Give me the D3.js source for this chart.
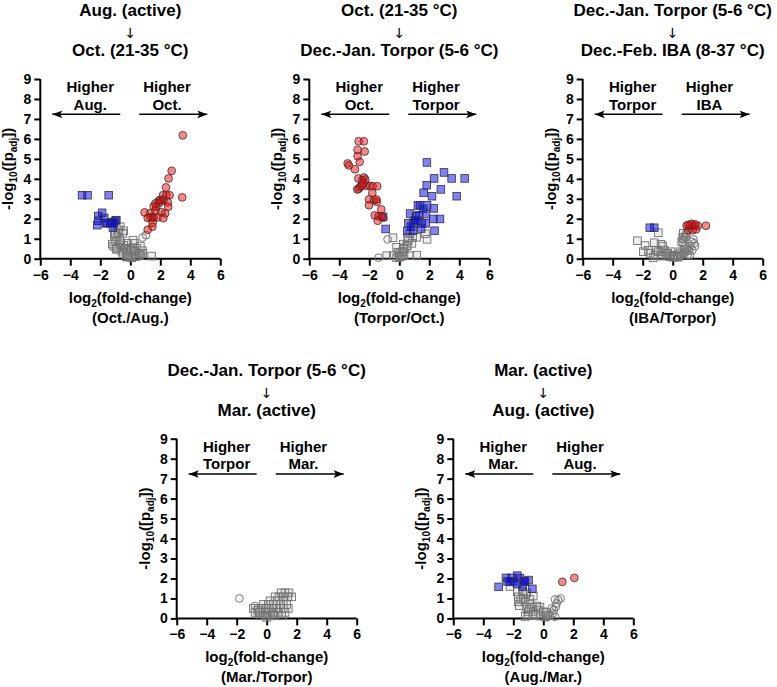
<!DOCTYPE html>
<html><head><meta charset="utf-8">
<script src="https://cdn.jsdelivr.net/npm/d3@7"></script>
<style>
html,body{margin:0;padding:0;background:#fff;}
svg{display:block;font-family:"Liberation Sans",Arial,Helvetica,sans-serif;}
text{-webkit-font-smoothing:antialiased;}
</style></head>
<body><svg id="chart" width="777" height="687"></svg>
<script>
// ---------- tick labels ----------
const xTicks = [-6, -4, -2, 0, 2, 4, 6];
const yTicks = [0, 1, 2, 3, 4, 5, 6, 7, 8, 9];

// ---------- panel texts ----------
const titleFrom = ["Aug. (active)", "Oct. (21-35 °C)", "Dec.-Jan. Torpor (5-6 °C)", "Dec.-Jan. Torpor (5-6 °C)", "Mar. (active)"];
const titleTo = ["Oct. (21-35 °C)", "Dec.-Jan. Torpor (5-6 °C)", "Dec.-Feb. IBA (8-37 °C)", "Mar. (active)", "Aug. (active)"];
const higherLeft = ["Aug.", "Oct.", "Torpor", "Torpor", "Mar."];
const higherRight = ["Oct.", "Torpor", "IBA", "Mar.", "Aug."];
const ratioLabels = ["(Oct./Aug.)", "(Torpor/Oct.)", "(IBA/Torpor)", "(Mar./Torpor)", "(Aug./Mar.)"];

// ---------- data: [log2 fold-change, -log10 padj] ----------
const p1RedCircles = [[3.5,6.18],[2.76,4.4],[2.55,4.02],[2.38,3.57],[3.46,3.07],[2.18,3.18],[2.4,3.18],[2.62,3.18],[2.0,2.95],[2.1,2.9],[1.9,2.9],[2.22,2.95],[1.67,2.77],[1.91,2.78],[2.5,2.82],[1.73,2.6],[1.56,2.62],[2.53,2.6],[0.95,2.32],[1.33,2.28],[1.67,2.4],[2.08,2.33],[2.33,2.27],[1.47,2.07],[1.33,2.07],[1.56,2.05],[1.82,2.07],[2.2,2.03],[1.16,2.04],[1.49,1.8],[1.47,1.6],[1.16,1.45]];
const p1BlueSquares = [[-3.22,3.18],[-2.85,3.18],[-1.44,3.18],[-1.88,2.3],[-2.14,2.14],[-1.74,2.04],[-2.14,1.9],[-2.2,1.68],[-1.56,1.8],[-1.33,1.78],[-1.0,1.9],[-1.1,1.77],[-0.93,1.93],[-1.2,1.82],[-1.16,1.55],[-1.62,1.77]];
const p1GraySquares = [[-0.67,1.6],[-0.44,1.4],[-0.8,1.33],[-1.07,1.18],[-0.89,1.1],[-0.98,0.88],[-1.2,0.73],[-0.67,0.8],[-0.44,0.68],[-0.18,0.77],[0.27,0.77],[0.67,0.63],[0.44,0.52],[0.07,0.52],[-0.27,0.47],[-0.84,0.57],[-1.11,0.63],[-0.56,0.38],[-0.18,0.33],[0.22,0.35],[0.67,0.27],[0.8,0.4],[0,0.18],[-0.27,0.1],[-0.11,0.07],[0.44,0.13],[1.42,0.13],[0.18,0.27],[-0.49,0.27],[-0.93,0.47],[-0.49,1.27],[-0.78,1.45],[-1.0,1.27],[-0.96,0.52],[-0.62,0.68],[-0.33,0.52],[0.18,0.93],[0.84,0.27],[0.04,0.43],[0.33,0.1],[-0.2,0.2],[0.6,0.15],[-0.7,0.95],[0.1,0.05],[0.3,0.4]];
const p1GrayCircles = [[0.82,1.06],[1.05,1.18],[0.6,0.3],[0.75,0.2]];

const p2RedCircles = [[-2.71,5.88],[-2.36,5.88],[-2.78,5.45],[-2.31,5.37],[-2.78,5.13],[-2.64,4.85],[-3.44,4.77],[-3.36,4.67],[-2.96,4.48],[-2.73,4.02],[-2.36,4.07],[-2.27,3.97],[-2.47,3.92],[-2.18,3.65],[-1.96,3.65],[-1.78,3.63],[-1.47,3.63],[-2.8,3.47],[-2.62,3.6],[-2.71,3.5],[-1.8,3.3],[-2.02,2.97],[-1.69,2.93],[-1.49,2.85],[-1.53,2.97],[-2.02,2.68],[-1.2,2.47],[-1.64,2.17],[-1.38,2.13],[-1.07,2.05],[-1.18,2.12],[-1.44,1.9],[-2.5,3.65],[-2.4,3.78]];
const p2BlueSquares = [[1.84,4.82],[2.98,4.32],[2.32,4.02],[3.49,4.02],[4.36,4.02],[1.83,3.68],[2.77,3.47],[1.62,3.3],[2.18,3.13],[3.83,3.13],[1.24,2.67],[1.38,2.67],[1.85,2.67],[2.3,2.52],[0.72,2.26],[1.11,2.13],[1.33,2.18],[1.78,2.23],[2.27,1.99],[2.71,1.99],[0.61,1.78],[0.93,1.8],[1.49,1.77],[1.75,1.77],[1.04,1.93],[2.35,1.4],[0.53,1.38],[0.91,1.4],[1.46,1.51],[-0.91,1.49],[-1.08,2.1],[0.78,1.6],[1.2,1.9],[1.6,2.5]];
const p2GraySquares = [[-0.42,1.05],[0.56,1.05],[0.89,1.07],[1.16,1.07],[1.74,1.25],[1.85,0.97],[0.84,0.77],[0.49,0.65],[0.27,0.52],[-0.18,0.57],[-0.09,0.32],[0.18,0.13],[0.71,0.15],[1.16,0.18],[-0.84,0.15],[-0.4,0.15],[-0.18,0.05],[0.04,0.3],[0.33,0.47],[0.71,1.27],[0.27,0.73],[0.53,0.63],[0.31,0.18],[0.2,0.35],[0.6,0.9],[0.0,0.1]];
const p2GrayCircles = [[-0.78,0.97],[-1.38,0.05],[0.1,0.05]];

const p3RedCircles = [[0.93,1.65],[1.16,1.65],[1.42,1.65],[1.67,1.65],[2.22,1.65],[1.04,1.43],[1.33,1.43],[1.56,1.47],[1.27,1.75],[1.05,1.7],[1.5,1.72]];
const p3BlueSquares = [[-1.53,1.55],[-1.23,1.55]];
const p3GraySquares = [[-0.96,1.3],[-2.35,0.9],[-1.84,0.66],[-1.22,0.8],[-0.78,0.72],[-1.62,0.42],[-1.51,0.27],[-1.11,0.43],[-0.78,0.35],[-0.56,0.43],[-0.33,0.27],[-0.51,0.18],[-0.18,0.1],[0.04,0.18],[0.16,0.1],[0.38,0.13],[-0.11,0.35],[0.49,0.35],[-1.96,0.35],[-1.18,0.18],[-0.67,0.63],[-0.96,0.35],[-0.4,0.27],[0.27,0.18],[-0.73,0.13],[0.04,0.07],[0.33,0.07],[0.71,1.27],[0.67,1.07],[0.6,0.85],[0.82,0.63],[0.75,0.45],[-1.3,0.05]];
const p3GrayCircles = [[0.87,1.22],[0.78,1.1],[0.71,0.97],[0.67,0.8],[1.27,0.85],[1.44,0.77],[1.16,0.63],[0.93,0.52],[1.09,0.4],[0.82,0.3],[0.6,0.18],[0.42,0.27],[1.0,0.18],[1.31,0.43],[1.49,0.63],[0.93,1.27],[0.87,1.07],[1.38,0.97],[0.98,0.4],[0.71,0.27],[1.16,0.18],[0.49,0.13]];

const p4RedCircles = [];
const p4BlueSquares = [];
const p4GraySquares = [[0.96,1.28],[1.22,1.28],[1.49,1.28],[0.56,1.08],[0.82,1.08],[1.11,1.08],[1.4,1.08],[1.67,1.08],[0.22,0.88],[0.71,0.88],[1.11,0.88],[-0.22,0.7],[0.11,0.7],[0.44,0.7],[0.93,0.7],[1.33,0.7],[-0.89,0.5],[-0.56,0.5],[-0.33,0.5],[0,0.5],[0.33,0.5],[0.67,0.5],[1.11,0.5],[1.44,0.5],[-0.78,0.3],[-0.49,0.3],[-0.22,0.3],[0.11,0.3],[0.44,0.3],[0.78,0.3],[1.22,0.3],[-0.44,0.13],[-0.11,0.13],[0.22,0.13],[0.56,0.13],[1.0,0.13],[0.0,0.05],[0.4,0.2],[-0.6,0.4]];
const p4GrayCircles = [[-1.82,1.0],[-0.78,0.62]];

const p5RedCircles = [[1.27,1.83],[2.07,2.03]];
const p5BlueSquares = [[-2.98,1.58],[-2.49,2.03],[-2.11,2.03],[-2.22,1.83],[-1.73,2.14],[-1.56,2.02],[-1.27,1.87],[-0.98,1.92],[-2.0,1.85],[-1.76,1.75],[-1.38,1.6],[-1.22,1.83],[-0.73,1.48],[-2.38,1.85]];
const p5GraySquares = [[-2.22,1.6],[-1.73,1.33],[-1.38,1.37],[-1.11,1.28],[-1.67,1.08],[-1.33,1.0],[-0.89,0.95],[-0.67,1.12],[-1.67,0.83],[-1.22,0.83],[-0.89,0.72],[-1.6,0.63],[-1.11,0.55],[-0.78,0.55],[-0.44,0.62],[-0.22,0.55],[-1.0,0.33],[-0.67,0.33],[-0.33,0.42],[0,0.33],[-1.04,0.17],[-0.67,0.17],[-0.22,0.12],[0.11,0.08],[0.33,0.17],[-1.33,1.2],[-1.5,0.95],[-0.95,0.45],[-0.5,0.2],[0.2,0.3],[-1.2,0.1]];
const p5GrayCircles = [[1.16,1.0],[1.0,0.92],[0.89,0.75],[0.84,0.58],[0.71,0.42],[0.62,0.25],[0.44,0.12],[0.78,0.08],[0.22,0.05],[0.78,0.95],[0.56,0.5]];

const redCircles = [p1RedCircles, p2RedCircles, p3RedCircles, p4RedCircles, p5RedCircles];
const blueSquares = [p1BlueSquares, p2BlueSquares, p3BlueSquares, p4BlueSquares, p5BlueSquares];
const graySquares = [p1GraySquares, p2GraySquares, p3GraySquares, p4GraySquares, p5GraySquares];
const grayCircles = [p1GrayCircles, p2GrayCircles, p3GrayCircles, p4GrayCircles, p5GrayCircles];

// ---------- layout ----------
const panelPos = [[40.3, 79], [309.3, 79], [582.7, 79], [176.7, 438.7], [453.3, 438.7]];
const PW = 180, PH = 179.7;

const svg = d3.select("#chart");
const defs = svg.append("defs");
defs.append("marker").attr("id", "ah").attr("viewBox", "0 0 10 10")
  .attr("refX", 10).attr("refY", 5).attr("markerWidth", 10).attr("markerHeight", 10)
  .attr("markerUnits", "userSpaceOnUse").attr("orient", "auto-start-reverse")
  .append("path").attr("d", "M0,1.2 L10,5 L0,8.8 L2.2,5 Z").attr("fill", "#000");

panelPos.forEach((pos, i) => {
  const [ox, oy] = pos;
  const x = d3.scaleLinear().domain([-6, 6]).range([0, PW]);
  const y = d3.scaleLinear().domain([0, 9]).range([PH, 0]);
  const g = svg.append("g").attr("transform", `translate(${ox},${oy})`);

  // title
  const cx = PW / 2;
  g.append("text").attr("x", cx).attr("y", -63).attr("text-anchor", "middle")
    .attr("font-size", 17).attr("font-weight", "bold").text(titleFrom[i]);
  g.append("text").attr("x", cx).attr("y", -41).attr("text-anchor", "middle")
    .attr("font-size", 14).attr("font-family", "'DejaVu Sans'").attr("font-weight", "normal")
    .attr("fill", "#000").text("\u2193");
  g.append("text").attr("x", cx).attr("y", -23).attr("text-anchor", "middle")
    .attr("font-size", 17).attr("font-weight", "bold").text(titleTo[i]);

  // axes
  const xa = g.append("g").attr("transform", `translate(0,${PH})`)
    .call(d3.axisBottom(x).tickValues(xTicks).tickSize(7).tickPadding(4).tickFormat(d3.format("d")));
  const ya = g.append("g")
    .call(d3.axisLeft(y).tickValues(yTicks).tickSize(6).tickPadding(3).tickFormat(d3.format("d")));
  [xa, ya].forEach(a => {
    a.select(".domain").attr("stroke", "#000").attr("stroke-width", 2);
    a.selectAll(".tick line").attr("stroke", "#000").attr("stroke-width", 2);
    a.selectAll(".tick text").attr("fill", "#000").attr("font-size", 14).attr("font-weight", "bold")
      .attr("font-family", "'Liberation Sans',Arial,sans-serif");
  });
  xa.select(".domain").attr("d", `M0,0H${PW}`);
  ya.select(".domain").attr("d", `M0,${PH}V0`);

  // x label
  const xl = g.append("text").attr("x", cx).attr("y", PH + 44).attr("text-anchor", "middle")
    .attr("font-size", 15).attr("font-weight", "bold");
  xl.append("tspan").text("log");
  xl.append("tspan").attr("font-size", 10).attr("dy", 4).text("2");
  xl.append("tspan").attr("dy", -4).text("(fold-change)");
  g.append("text").attr("x", cx).attr("y", PH + 64).attr("text-anchor", "middle")
    .attr("font-size", 15).attr("font-weight", "bold").text(ratioLabels[i]);

  // y label
  const yl = g.append("text").attr("transform", `translate(-27,${PH / 2}) rotate(-90)`)
    .attr("text-anchor", "middle").attr("font-size", 15).attr("font-weight", "bold");
  yl.append("tspan").text("-log");
  yl.append("tspan").attr("font-size", 10).attr("dy", 4).text("10");
  yl.append("tspan").attr("dy", -4).text("([p");
  yl.append("tspan").attr("font-size", 10).attr("dy", 4).text("adj");
  yl.append("tspan").attr("dy", -4).text("])");

  // direction annotations
  [[-2.67, "Higher", higherLeft[i]], [2.45, "Higher", higherRight[i]]].forEach(([vx, a, b]) => {
    const t = g.append("text").attr("text-anchor", "middle").attr("font-size", 15).attr("font-weight", "bold");
    t.append("tspan").attr("x", x(vx)).attr("y", y(8.35)).text(a);
    t.append("tspan").attr("x", x(vx)).attr("y", y(7.47)).text(b);
  });
  g.append("line").attr("x1", x(-0.67)).attr("x2", x(-5.2)).attr("y1", y(7.23)).attr("y2", y(7.23))
    .attr("stroke", "#000").attr("stroke-width", 1.5).attr("marker-end", "url(#ah)");
  g.append("line").attr("x1", x(0.6)).attr("x2", x(5.13)).attr("y1", y(7.23)).attr("y2", y(7.23))
    .attr("stroke", "#000").attr("stroke-width", 1.5).attr("marker-end", "url(#ah)");

  // points
  const s = 7.6, r = 3.9;
  g.append("g").selectAll("rect").data(graySquares[i]).join("rect")
    .attr("x", d => x(d[0]) - s / 2).attr("y", d => y(d[1]) - s / 2).attr("width", s).attr("height", s)
    .attr("fill", "#9a9a9a").attr("fill-opacity", 0.16).attr("stroke", "#707070").attr("stroke-width", 0.9);
  g.append("g").selectAll("circle").data(grayCircles[i]).join("circle")
    .attr("cx", d => x(d[0])).attr("cy", d => y(d[1])).attr("r", r)
    .attr("fill", "#9a9a9a").attr("fill-opacity", 0.12).attr("stroke", "#707070").attr("stroke-width", 0.9);
  g.append("g").selectAll("rect").data(blueSquares[i]).join("rect")
    .attr("x", d => x(d[0]) - s / 2).attr("y", d => y(d[1]) - s / 2).attr("width", s).attr("height", s)
    .attr("fill", "#0000ff").attr("fill-opacity", 0.5).attr("stroke", "#333").attr("stroke-width", 0.8);
  g.append("g").selectAll("circle").data(redCircles[i]).join("circle")
    .attr("cx", d => x(d[0])).attr("cy", d => y(d[1])).attr("r", r)
    .attr("fill", "#ff0000").attr("fill-opacity", 0.48).attr("stroke", "#333").attr("stroke-width", 0.8);
});
</script>
</body></html>
